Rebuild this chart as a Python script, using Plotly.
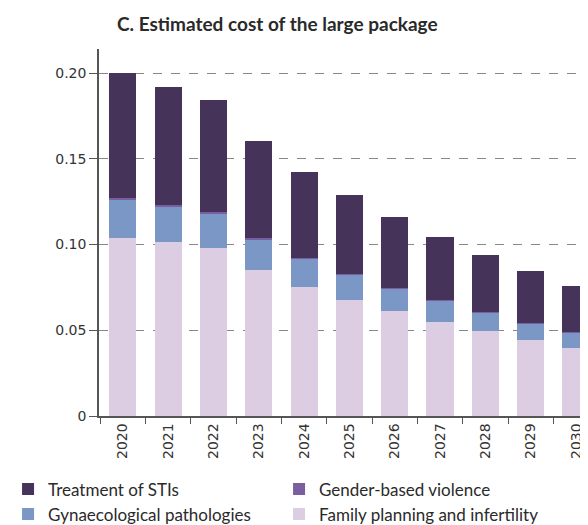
import plotly.graph_objects as go

years = ["2020", "2021", "2022", "2023", "2024", "2025", "2026", "2027", "2028", "2029", "2030"]

# stacked from the bottom up
family_planning = [0.1037, 0.1012, 0.0980, 0.0852, 0.0754, 0.0678, 0.0610, 0.0550, 0.0493, 0.0443, 0.0396]
gynaecological = [0.0225, 0.0212, 0.0201, 0.0180, 0.0163, 0.0146, 0.0134, 0.0121, 0.0108, 0.0096, 0.0088]
gender_violence = [0.0008, 0.0008, 0.0008, 0.0005, 0.0005, 0.0005, 0.0005, 0.0005, 0.0005, 0.0005, 0.0005]
sti_treatment = [0.0730, 0.0684, 0.0655, 0.0569, 0.0503, 0.0458, 0.0409, 0.0369, 0.0331, 0.0302, 0.0267]

fig = go.Figure()
series = [
    ("Family planning and infertility", family_planning, "#dccde3"),
    ("Gynaecological pathologies", gynaecological, "#7b97c6"),
    ("Gender-based violence", gender_violence, "#7a5fa0"),
    ("Treatment of STIs", sti_treatment, "#46335a"),
]
for name, vals, col in series:
    fig.add_trace(go.Bar(x=years, y=vals, name=name, marker_color=col,
                         marker_line_width=0, width=0.6))

font = "Lato, 'Open Sans', sans-serif"
tickfont = "'DejaVu Sans', sans-serif"
fig.update_layout(
    barmode="stack",
    width=588, height=525,
    margin=dict(l=91, r=0, t=41, b=117),
    paper_bgcolor="white", plot_bgcolor="white",
    font=dict(family=font, color="#333333"),
    title=dict(text="<b>C. Estimated cost of the large package</b>", x=0.458, xanchor="center",
               y=0.981, yanchor="top", font=dict(size=19, color="#2a2a2a")),
    legend=dict(orientation="h", x=-0.183, xanchor="left", y=-0.317, yanchor="bottom",
                traceorder="reversed", entrywidth=226, entrywidthmode="pixels",
                font=dict(size=17, color="#2a2a2a"), itemwidth=30, tracegroupgap=0),
    bargap=0.4,
)
fig.update_xaxes(
    range=[-0.525, 10.44], showline=True, linecolor="#555555", linewidth=1.5,
    ticks="outside", tickson="boundaries", ticklen=6, tickcolor="#555555",
    tickangle=-90, tickfont=dict(family=tickfont, size=14, color="#333333"), showgrid=False,
)
fig.update_yaxes(
    range=[0, 0.214], showline=True, linecolor="#555555", linewidth=1.5,
    ticks="outside", ticklen=8, tickcolor="#555555",
    tickvals=[0, 0.05, 0.10, 0.15, 0.20], ticktext=["0", "0.05", "0.10", "0.15", "0.20"],
    tickfont=dict(family=tickfont, size=14, color="#333333"),
    showgrid=True, gridcolor="#888888", griddash="dash", gridwidth=1, zeroline=False,
)

fig.write_html("out.html")
